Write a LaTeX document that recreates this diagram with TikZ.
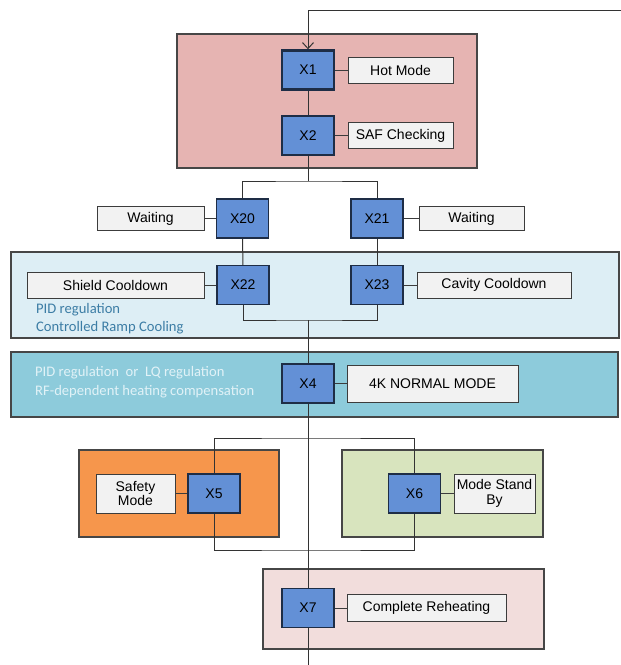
\documentclass[tikz,border=0pt]{standalone}
\usepackage{fontspec}
\setmainfont{Liberation Sans}
\newfontfamily\notefont{Carlito}
\usetikzlibrary{arrows.meta}

\definecolor{stepfill}{RGB}{99,144,214}
\definecolor{stepline}{RGB}{30,45,70}
\definecolor{labelfill}{RGB}{242,242,242}
\definecolor{labelline}{RGB}{60,60,60}
\definecolor{hotzone}{RGB}{230,180,178}
\definecolor{coolzone}{RGB}{221,238,245}
\definecolor{normzone}{RGB}{141,203,219}
\definecolor{safezone}{RGB}{246,150,76}
\definecolor{standbyzone}{RGB}{216,228,190}
\definecolor{reheatzone}{RGB}{242,221,220}
\definecolor{notecool}{RGB}{60,125,165}
\definecolor{notenorm}{RGB}{225,242,247}
\definecolor{framecol}{RGB}{70,70,70}

\begin{document}
\begin{tikzpicture}[x=1pt,y=-1pt,
  stepbox/.style={draw=stepline, line width=1.1pt, fill=stepfill,
    minimum width=52pt, minimum height=39pt, inner sep=0pt,
    font=\fontsize{14}{14}\selectfont},
  labelbox/.style={draw=labelline, line width=1pt, fill=labelfill,
    minimum height=26pt, inner sep=0pt, align=center,
    font=\fontsize{14}{14.5}\selectfont},
  zone/.style={draw=framecol, line width=1.1pt},
  flow/.style={draw=black!80, line width=1pt},
  link/.style={draw=labelline, line width=1pt},
  note/.style={anchor=west, inner sep=0pt,
    font=\notefont\fontsize{14.6}{14.6}\selectfont}
]
\useasboundingbox (0,0) rectangle (621,665);

% coloured zones grouping the steps
\path[zone, fill=hotzone]     (177,34)  rectangle (477,168);
\path[zone, fill=coolzone]    (11,252)  rectangle (619,338);
\path[zone, fill=normzone]    (11,352)  rectangle (618,417);
\path[zone, fill=safezone]    (79,450)  rectangle (279,537);
\path[zone, fill=standbyzone] (342,450) rectangle (543,537);
\path[zone, fill=reheatzone]  (263,569) rectangle (544,649);

% zone notes
\node[note, text=notecool] (n1) at (36,310) {PID regulation};
\node[note, text=notecool] (n2) at (36,328) {Controlled Ramp Cooling};
\node[note, text=notenorm] (n3) at (35,373) {PID regulation~ or~ LQ regulation};
\node[note, text=notenorm] (n4) at (35,392) {RF-dependent heating compensation};

% steps
\node[stepbox, line width=2.4pt] (x1) at (308,70) {X1};
\node[stepbox] (x2)  at (308,135.5) {X2};
\node[stepbox] (x20) at (242.5,218.5) {X20};
\node[stepbox] (x21) at (377,218.5) {X21};
\node[stepbox] (x22) at (243,285) {X22};
\node[stepbox] (x23) at (377,285) {X23};
\node[stepbox] (x4)  at (308,383.5) {X4};
\node[stepbox] (x5)  at (214,493.5) {X5};
\node[stepbox] (x6)  at (414.5,493.5) {X6};
\node[stepbox] (x7)  at (308,608) {X7};

% step descriptions
\node[labelbox, minimum width=105pt] (hot)  at (400.5,70)    {Hot Mode};
\node[labelbox, minimum width=105pt] (saf)  at (400.5,135.5) {SAF Checking};
\node[labelbox, minimum width=107pt, minimum height=24pt] (waitl) at (150.5,218.5) {Waiting};
\node[labelbox, minimum width=105pt, minimum height=24pt] (waitr) at (471.5,218.5) {Waiting};
\node[labelbox, minimum width=177pt] (shield) at (115.5,285) {Shield Cooldown};
\node[labelbox, minimum width=154pt] (cavity) at (494,285)   {Cavity Cooldown};
\node[labelbox, minimum width=171pt, minimum height=37pt] (normal) at (432.5,383.5) {4K NORMAL MODE};
\node[labelbox, minimum width=79pt, minimum height=39pt] (safety) at (135.5,493.5) {Safety\\Mode};
\node[labelbox, minimum width=81pt, minimum height=39pt] (standby) at (494.5,493.5) {Mode Stand\\By};
\node[labelbox, minimum width=159pt, minimum height=27pt] (reheat) at (426.5,608) {Complete Reheating};

% step-to-description links
\draw[link] (x1.east) -- (hot.west);
\draw[link] (x2.east) -- (saf.west);
\draw[link] (x20.west) -- (waitl.east);
\draw[link] (x21.east) -- (waitr.west);
\draw[link] (x22.west) -- (shield.east);
\draw[link] (x23.east) -- (cavity.west);
\draw[link] (x4.east) -- (normal.west);
\draw[link] (x5.west) -- (safety.east);
\draw[link] (x6.east) -- (standby.west);
\draw[link] (x7.east) -- (reheat.west);

% sequence
\coordinate (entry) at (621,10);
\coordinate (fork1) at (308,181);
\coordinate (join1) at (308,320);
\coordinate (fork2) at (308,438);
\coordinate (join2) at (308,550);
\coordinate (exit)  at (308,665);

\draw[flow, -{Straight Barb[length=6pt,width=11pt]}] (entry) -| (x1.north);
\draw[flow] (x1) -- (x2);
\draw[flow] (x2.south) -- (fork1);
\draw[flow] (x20.north) |- (fork1) -| (x21.north);
\draw[flow] (x20) -- (x22);
\draw[flow] (x21) -- (x23);
\draw[flow] (x22.south) |- (join1) -| (x23.south);
\draw[flow] (join1) -- (x4.north);
\draw[flow] (x4) -- (x7);
\draw[flow] (x5.north) |- (fork2) -| (x6.north);
\draw[flow] (x5.south) |- (join2) -| (x6.south);
\draw[flow] (x7.south) -- (exit);
\end{tikzpicture}
\end{document}
